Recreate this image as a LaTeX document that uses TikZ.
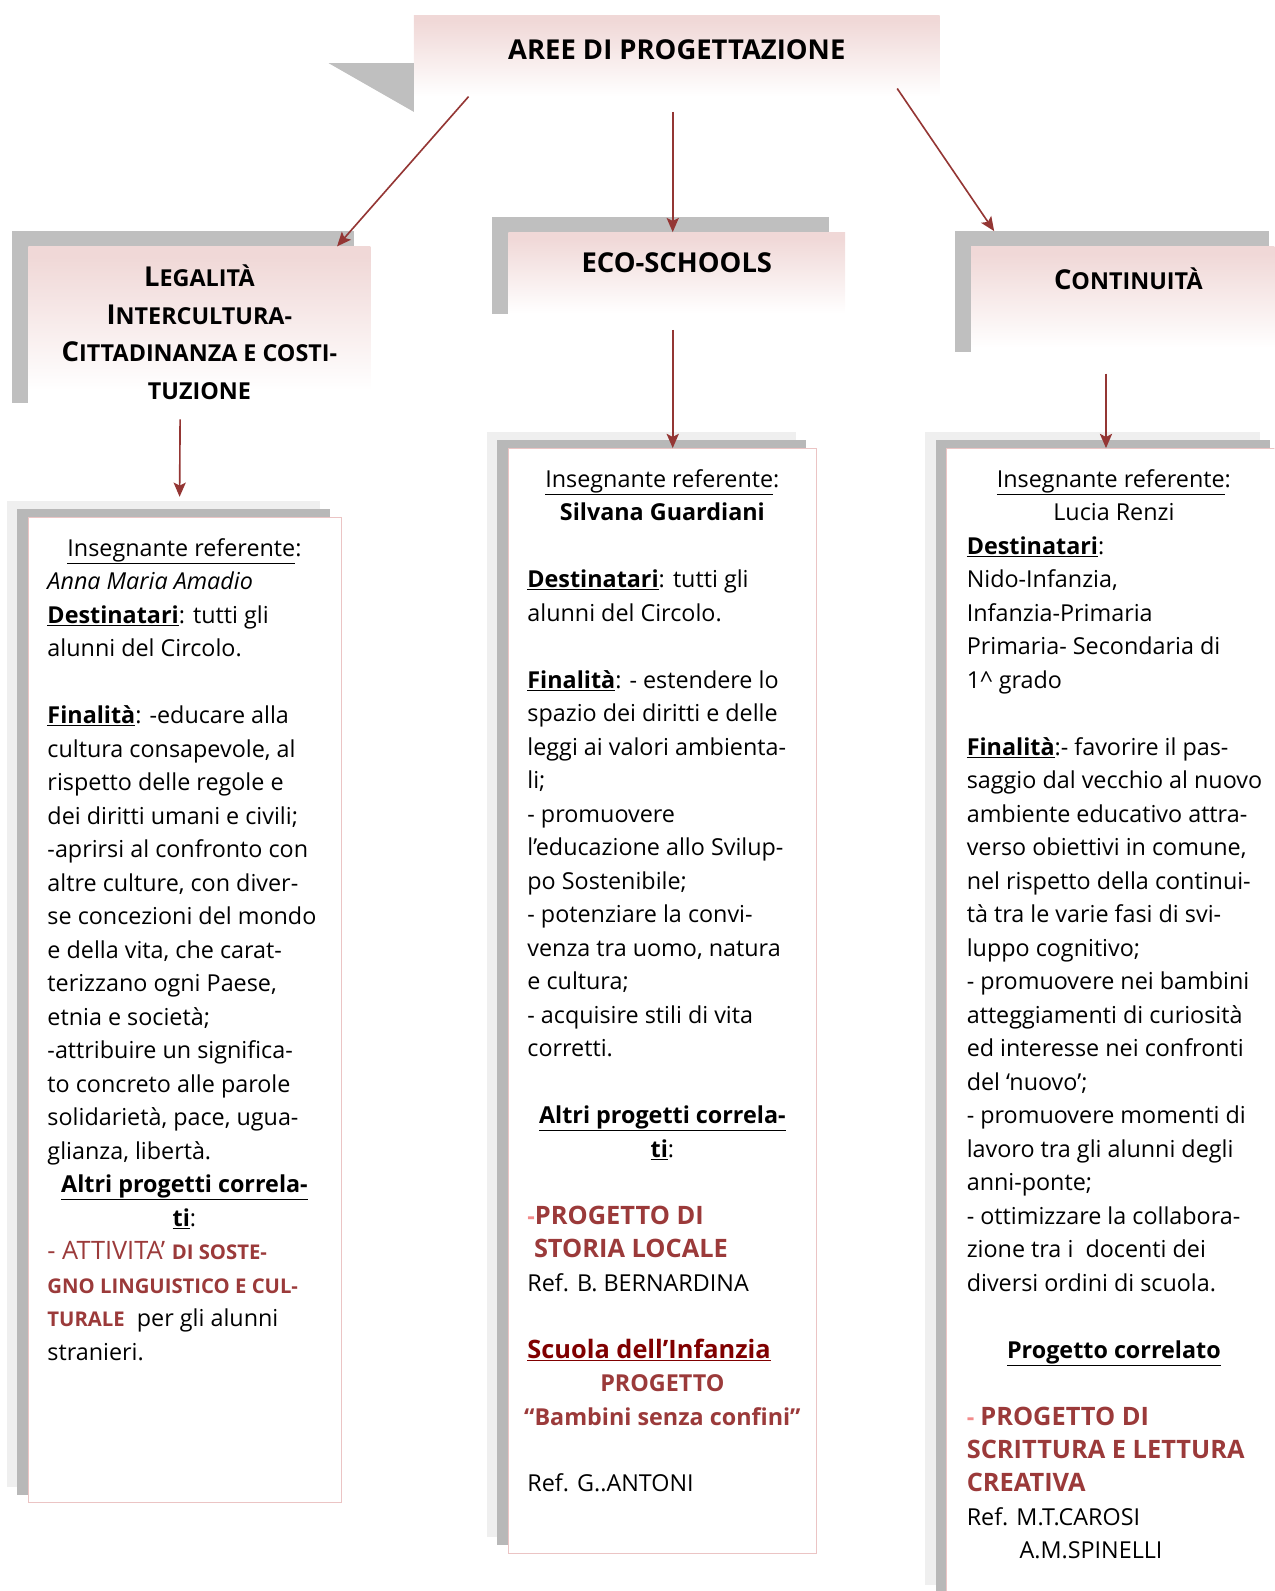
\documentclass[tikz,border=0pt]{standalone}
\usepackage{fontspec}
\setmainfont{Open Sans}
\usetikzlibrary{arrows.meta,shadows}
\usepackage{xcolor}
\definecolor{hdrpink}{HTML}{F0D8D7}
\definecolor{hdrshadow}{HTML}{BFBFBF}
\definecolor{shadedark}{HTML}{B8B8B8}
\definecolor{shadelight}{HTML}{EFEFEF}
\definecolor{boxpink}{HTML}{EBC4C4}
\definecolor{arrowred}{HTML}{943634}
\definecolor{projred}{HTML}{9B3A3A}
\definecolor{darkred}{HTML}{800000}
\definecolor{dashpink}{HTML}{F28B8B}
\pgfdeclareverticalshading{hdrfade}{100bp}{color(0bp)=(white); color(25bp)=(white); color(33bp)=(white); color(72bp)=(hdrpink); color(100bp)=(hdrpink)}
\newcommand{\hsc}[2]{#1{\fontsize{23}{37}\selectfont\MakeUppercase{#2}}}
\newcommand{\redsc}[1]{{\fontsize{20}{33}\selectfont\bfseries #1}}
\newcommand{\redcaps}[1]{{\fontsize{25}{33}\selectfont\bfseries\color{projred}#1}}
\newcommand{\centred}[2]{\makebox[#1][c]{#2}}
\tikzset{
  titlebox/.style={shade, shading=hdrfade, draw=none, inner sep=0pt, align=center,
    font=\fontsize{27}{37}\selectfont\bfseries},
  hdrbox/.style={titlebox,
    general shadow={fill=hdrshadow, draw=none, shadow xshift=-16pt, shadow yshift=15pt}},
  colbox/.style={draw=boxpink, line width=0.8pt, fill=white,
    general shadow={fill=shadelight, draw=none, shadow xshift=-21pt, shadow yshift=16pt},
    general shadow={fill=shadedark, draw=none, shadow xshift=-11pt, shadow yshift=8pt}},
  coltext/.style={anchor=north west, inner sep=0pt, align=left, font=\fontsize{23}{33}\selectfont},
  arrow/.style={-{Stealth[length=14pt, width=12pt, inset=3pt]}, line width=1.6pt, draw=arrowred}
}

\begin{document}
\begin{tikzpicture}[x=1pt, y=-1pt]
  \useasboundingbox (0,0) rectangle (1256,1568);
  \clip (0,0) rectangle (1256,1568);

  \node[titlebox, minimum width=518pt, text height=44pt, text depth=51pt] (title) at (667,62.5) {AREE DI PROGETTAZIONE};
  \fill[hdrshadow] (title.south west) -- ([yshift=48pt]title.south west) -- ++(-84,0) -- cycle;

  \node[hdrbox, minimum width=337pt, minimum height=169pt] (lhead) at (196.5,327.5)
    {\hsc{L}{egalità}\\ \hsc{I}{ntercultura-}\\ \hsc{C}{ittadinanza e costi-}\\ \hsc{}{tuzione}};
  \node[hdrbox, minimum width=332pt, text height=40pt, text depth=55pt] (mhead) at (667,276.5) {ECO-SCHOOLS};
  \node[hdrbox, minimum width=310pt, text height=42pt, text depth=77pt] (rhead) at (1112,302.5) {\hsc{C}{ontinuità}};

  \draw[arrow] ([xshift=54pt, yshift=15pt]title.south west) -- ([xshift=-33pt]lhead.north east);
  \draw[arrow] ([xshift=-4pt]title.south) -- ([xshift=-4pt]mhead.north);
  \draw[arrow] ([xshift=-42pt, yshift=23pt]title.south east) -- ([xshift=23pt, yshift=15pt]rhead.north west);

  \node[colbox, minimum width=308pt, minimum height=971pt] (lbox) at (182,995.5) {};
  \node[colbox, minimum width=304pt, minimum height=1089pt] (mbox) at (653,986.5) {};
  \node[colbox, minimum width=330pt, minimum height=1136pt] (rbox) at (1098,1010) {};

  \draw[arrow] ([xshift=-19pt, yshift=-1pt]lhead.south) -- ([xshift=-5pt, yshift=20pt]lbox.north);
  \draw[arrow] ([xshift=-4pt, yshift=-1pt]mhead.south) -- ([xshift=10pt]mbox.north);
  \draw[arrow] ([xshift=-22pt, yshift=-6pt]rhead.south) -- ([xshift=-8pt]rbox.north);

  % testo delle tre colonne
  \node[coltext] (ltext) at ([xshift=19pt, yshift=-21pt]lbox.north west) {%
    \centred{270pt}{\underline{Insegnante referente}:}\\
    \textit{Anna Maria Amadio}\\
    \textbf{\underline{Destinatari}}: tutti gli\\
    alunni del Circolo.\\[33pt]
    \textbf{\underline{Finalità}}: -educare alla\\
    cultura consapevole, al\\
    rispetto delle regole e\\
    dei diritti umani e civili;\\
    -aprirsi al confronto con\\
    altre culture, con diver-\\
    se concezioni del mondo\\
    e della vita, che carat-\\
    terizzano ogni Paese,\\
    etnia e società;\\
    -attribuire un significa-\\
    to concreto alle parole\\
    solidarietà, pace, ugua-\\
    glianza, libertà.\\
    \centred{270pt}{\textbf{\underline{Altri progetti correla-}}}\\
    \centred{270pt}{\textbf{\underline{ti}}:}\\
    {\color{projred}\fontsize{25}{33}\selectfont - ATTIVITA’ \redsc{DI SOSTE-}}\\
    {\color{projred}\redsc{GNO LINGUISTICO E CUL-}}\\
    {\color{projred}\redsc{TURALE}}\ \ per gli alunni\\
    stranieri.};

  \node[coltext] (mtext) at ([xshift=19pt, yshift=-21pt]mbox.north west) {%
    \centred{266pt}{\underline{Insegnante referente}:}\\
    \centred{266pt}{\textbf{Silvana Guardiani}}\\[33pt]
    \textbf{\underline{Destinatari}}: tutti gli\\
    alunni del Circolo.\\[33pt]
    \textbf{\underline{Finalità}}: - estendere lo\\
    spazio dei diritti e delle\\
    leggi ai valori ambienta-\\
    li;\\
    - promuovere\\
    l’educazione allo Svilup-\\
    po Sostenibile;\\
    - potenziare la convi-\\
    venza tra uomo, natura\\
    e cultura;\\
    - acquisire stili di vita\\
    corretti.\\[33pt]
    \centred{266pt}{\textbf{\underline{Altri progetti correla-}}}\\
    \centred{266pt}{\textbf{\underline{ti}}:}\\[33pt]
    {\bfseries\color{dashpink}-}\redcaps{PROGETTO DI}\\
    \redcaps{\ STORIA LOCALE}\\
    Ref. B. BERNARDINA\\[33pt]
    {\fontsize{25}{33}\selectfont\bfseries\color{darkred}\underline{Scuola dell’Infanzia}}\\
    \centred{266pt}{\bfseries\color{projred}PROGETTO}\\
    \centred{266pt}{\bfseries\color{projred}“Bambini senza confini”}\\[33pt]
    Ref. G..ANTONI};

  \node[coltext] (rtext) at ([xshift=20pt, yshift=-21pt]rbox.north west) {%
    \centred{290pt}{\underline{Insegnante referente}:}\\
    \centred{290pt}{Lucia Renzi}\\
    \textbf{\underline{Destinatari}}:\\
    Nido-Infanzia,\\
    Infanzia-Primaria\\
    Primaria- Secondaria di\\
    1\textasciicircum{} grado\\[33pt]
    \textbf{\underline{Finalità}}:- favorire il pas-\\
    saggio dal vecchio al nuovo\\
    ambiente educativo attra-\\
    verso obiettivi in comune,\\
    nel rispetto della continui-\\
    tà tra le varie fasi di svi-\\
    luppo cognitivo;\\
    - promuovere nei bambini\\
    atteggiamenti di curiosità\\
    ed interesse nei confronti\\
    del ‘nuovo’;\\
    - promuovere momenti di\\
    lavoro tra gli alunni degli\\
    anni-ponte;\\
    - ottimizzare la collabora-\\
    zione tra i\ \ docenti dei\\
    diversi ordini di scuola.\\[33pt]
    \centred{290pt}{\textbf{\underline{Progetto correlato}}}\\[33pt]
    {\bfseries\color{dashpink}-} \redcaps{PROGETTO DI}\\
    \redcaps{SCRITTURA E LETTURA}\\
    \redcaps{CREATIVA}\\
    Ref. M.T.CAROSI\\
    \hspace*{52pt}A.M.SPINELLI};
\end{tikzpicture}
\end{document}
